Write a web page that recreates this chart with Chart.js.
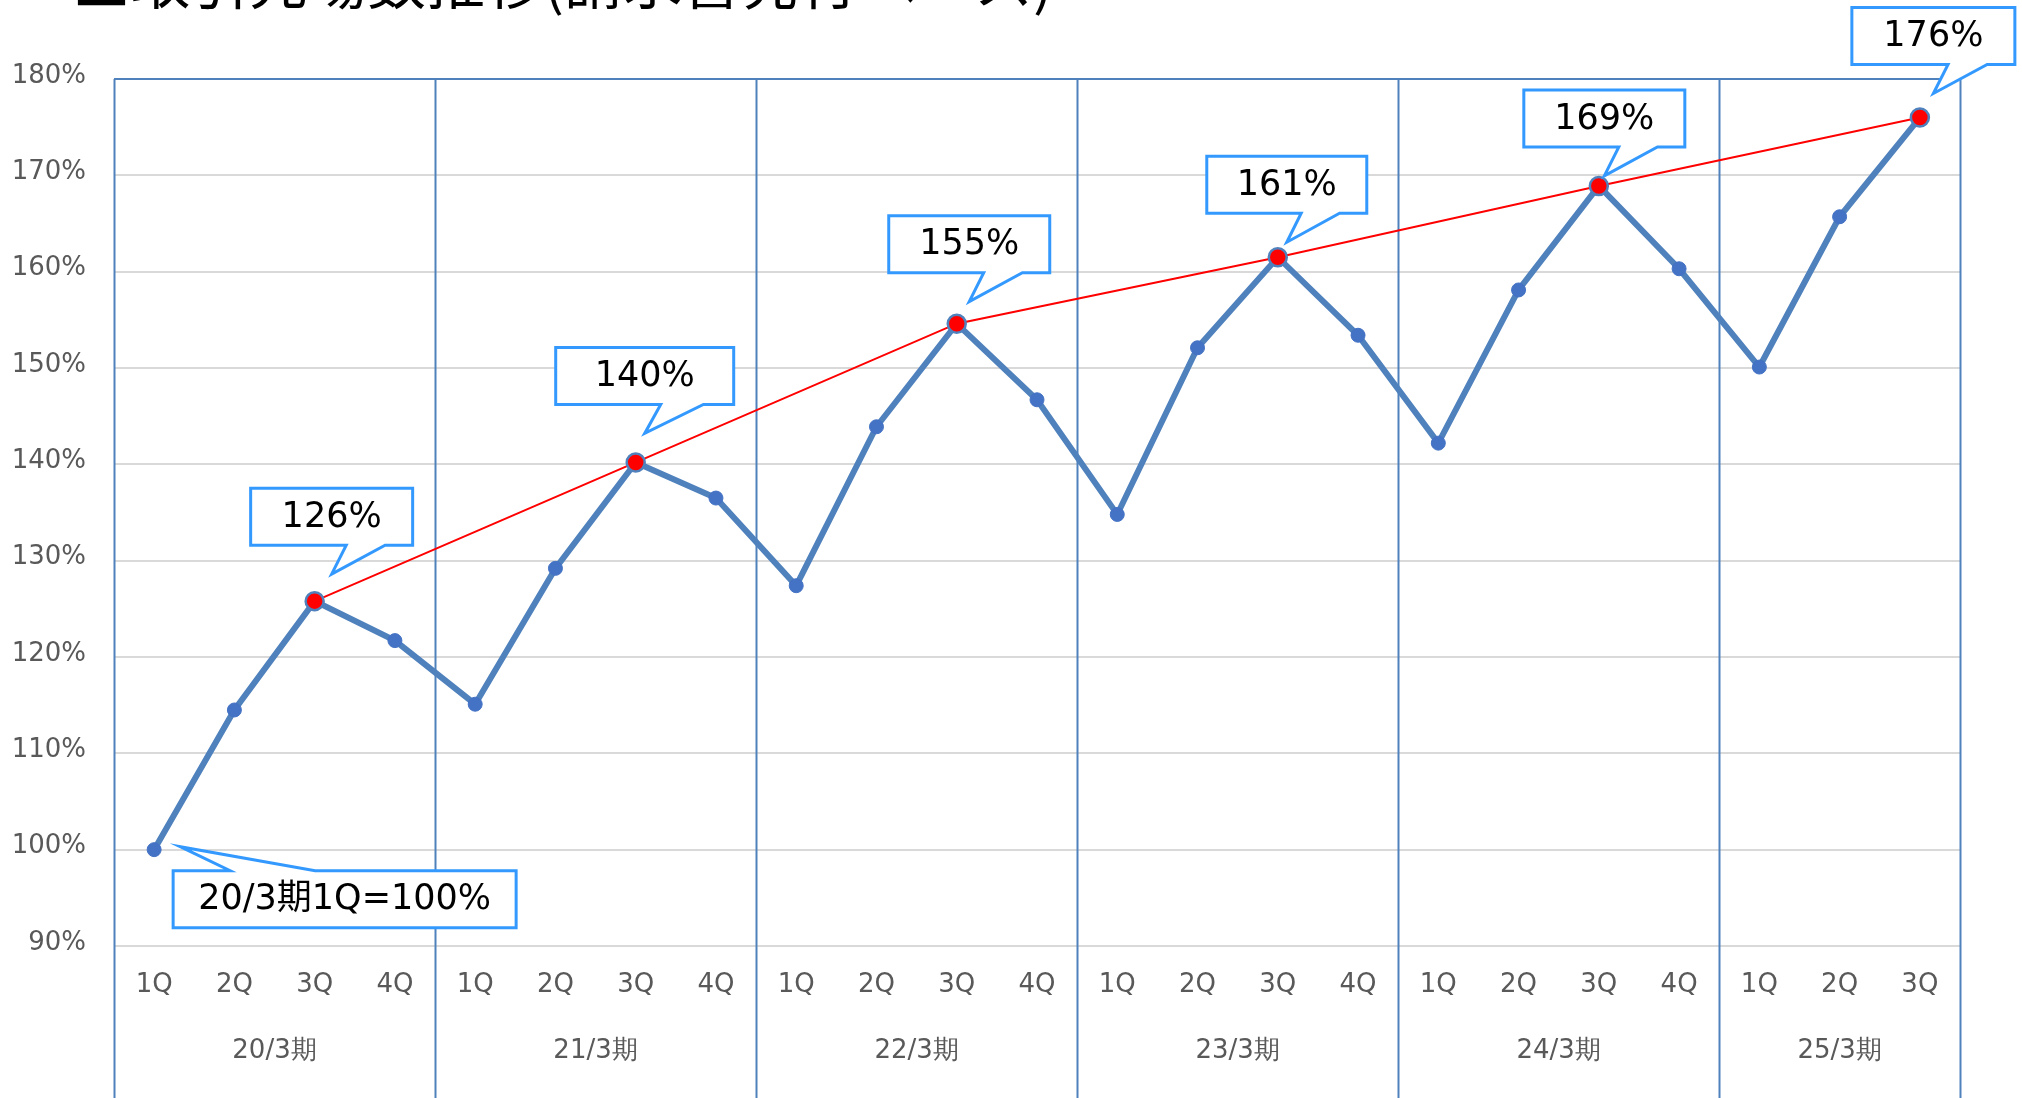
<!DOCTYPE html>
<html lang="ja">
<head>
<meta charset="utf-8">
<title>取引先場数推移</title>
<script src="https://cdn.jsdelivr.net/npm/chart.js@4/dist/chart.umd.min.js"></script>
<style>
  body { margin: 0; background: #fff; overflow: hidden; }
  #wrap { position: relative; width: 2022px; height: 1098px; }
  #title {
    position: absolute; left: 72px; top: -51px;
    font: 59px/59px "Noto Sans CJK JP", sans-serif; color: #000; white-space: nowrap;
  }
  canvas { position: absolute; left: 0; top: 0; }
</style>
</head>
<body>
<div id="wrap">
  <canvas id="trendChart" width="2022" height="1098"></canvas>
  <div id="title">■取引先場数推移(請求書発行ベース)</div>
</div>
<script>
const quarters = ['1Q', '2Q', '3Q', '4Q', '1Q', '2Q', '3Q', '4Q', '1Q', '2Q', '3Q', '4Q',
  '1Q', '2Q', '3Q', '4Q', '1Q', '2Q', '3Q', '4Q', '1Q', '2Q', '3Q']
const fiscalYears = ['20/3期', '21/3期', '22/3期', '23/3期', '24/3期', '25/3期']
const yearSpans = [4, 4, 4, 4, 4, 3]
const indexValues = [100, 114.5, 125.8, 121.7, 115.1, 129.2, 140.2, 136.5, 127.4, 143.9, 154.6, 146.7,
  134.8, 152.1, 161.5, 153.4, 142.2, 158.1, 168.9, 160.3, 150.1, 165.7, 176.0]
const peakValues = [null, null, 125.8, null, null, null, 140.2, null, null, null, 154.6, null,
  null, null, 161.5, null, null, null, 168.9, null, null, null, 176.0]
const peakLabels = ['126%', '140%', '155%', '161%', '169%', '176%']
const baseNote = '20/3期1Q=100%'
const yMin = 90
const yMax = 180
const yStep = 10

const lineBlue = '#4f81bd'
const calloutBlue = '#3399ff'
const tickFont = { family: 'DejaVu Sans', size: 26 }

// callout box placement relative to its point (style only)
const peakBoxes = [
  { dx: -64, dy: -113, w: 162 },
  { dx: -80, dy: -115, w: 178 },
  { dx: -68, dy: -108, w: 161 },
  { dx: -71, dy: -101, w: 160 },
  { dx: -75, dy: -96, w: 161 },
  { dx: -68, dy: -110, w: 163 }
]

// group centres and boundaries in category units
const yearCenters = []
const yearBounds = [-0.5]
let start = 0
yearSpans.forEach(span => {
  yearCenters.push(start + (span - 1) / 2)
  start += span
  yearBounds.push(start - 0.5)
})

const separators = {
  id: 'separators',
  beforeDatasetsDraw (chart) {
    const ctx = chart.ctx
    const xs = chart.scales.year
    const top = chart.chartArea.top
    ctx.save()
    ctx.strokeStyle = lineBlue
    ctx.lineWidth = 2
    ctx.beginPath()
    ctx.moveTo(xs.getPixelForValue(yearBounds[0]), top)
    ctx.lineTo(xs.getPixelForValue(yearBounds[yearBounds.length - 1]), top)
    yearBounds.forEach(b => {
      const px = Math.round(xs.getPixelForValue(b)) + 0.5
      ctx.moveTo(px, top)
      ctx.lineTo(px, chart.height)
    })
    ctx.stroke()
    ctx.restore()
  }
}

function drawBubble (ctx, L, T, W, H, tail, text) {
  const R = L + W
  const B = T + H
  ctx.beginPath()
  ctx.moveTo(L, T)
  if (tail.side === 'top') {
    ctx.lineTo(tail.a, T)
    ctx.lineTo(tail.tx, tail.ty)
    ctx.lineTo(tail.b, T)
  }
  ctx.lineTo(R, T)
  ctx.lineTo(R, B)
  if (tail.side === 'bottom') {
    ctx.lineTo(tail.b, B)
    ctx.lineTo(tail.tx, tail.ty)
    ctx.lineTo(tail.a, B)
  }
  ctx.lineTo(L, B)
  ctx.closePath()
  ctx.fillStyle = '#fff'
  ctx.fill()
  ctx.strokeStyle = calloutBlue
  ctx.lineWidth = 3
  ctx.stroke()
  ctx.fillStyle = '#000'
  ctx.font = '35px "DejaVu Sans", "Noto Sans CJK JP"'
  ctx.textAlign = 'center'
  ctx.textBaseline = 'middle'
  ctx.fillText(text, L + W / 2, T + H / 2 + 1)
}

const callouts = {
  id: 'callouts',
  afterDatasetsDraw (chart) {
    const ctx = chart.ctx
    const xs = chart.scales.x
    const ys = chart.scales.y
    const h = 57
    ctx.save()
    let k = 0
    peakValues.forEach((v, i) => {
      if (v === null) return
      const box = peakBoxes[k]
      const px = xs.getPixelForValue(i)
      const py = ys.getPixelForValue(v)
      const L = px + box.dx
      const T = py + box.dy
      drawBubble(ctx, L, T, box.w, h, {
        side: 'bottom',
        a: L + box.w * 0.59,
        b: L + box.w * 0.83,
        tx: L + box.w * 0.5,
        ty: T + h + 29
      }, peakLabels[k])
      k++
    })
    // base note under the first point
    const bx = xs.getPixelForValue(0)
    const by = ys.getPixelForValue(indexValues[0])
    const L = bx + 19
    const T = by + 21
    drawBubble(ctx, L, T, 343, h, {
      side: 'top', a: L + 57, b: L + 142, tx: L + 7, ty: T - 24
    }, baseNote)
    ctx.restore()
  }
}

const ctx = document.getElementById('trendChart').getContext('2d')
new Chart(ctx, {
  type: 'line',
  data: {
    labels: quarters,
    datasets: [
      {
        data: peakValues,
        spanGaps: true,
        borderColor: '#ff0000',
        borderWidth: 2,
        pointRadius: 9,
        pointBackgroundColor: '#ff0000',
        pointBorderColor: lineBlue,
        pointBorderWidth: 2.5,
        tension: 0
      },
      {
        data: indexValues,
        borderColor: lineBlue,
        borderWidth: 6,
        pointRadius: 7,
        pointBackgroundColor: '#4472c4',
        pointBorderColor: '#4472c4',
        pointBorderWidth: 1,
        tension: 0
      }
    ]
  },
  options: {
    responsive: false,
    devicePixelRatio: 1,
    animation: false,
    layout: { padding: { top: 79, right: 62, left: 0, bottom: 0 } },
    plugins: {
      legend: { display: false },
      tooltip: { enabled: false },
      title: { display: false }
    },
    scales: {
      y: {
        min: yMin,
        max: yMax,
        ticks: {
          stepSize: yStep,
          padding: 28,
          labelOffset: -3,
          color: '#595959',
          font: tickFont,
          callback: v => v + '%'
        },
        grid: { color: '#d9d9d9', lineWidth: 2, drawTicks: false },
        border: { display: false },
        afterFit (scale) { scale.width = 114 }
      },
      x: {
        type: 'category',
        offset: true,
        ticks: {
          padding: 24,
          autoSkip: false,
          maxRotation: 0,
          color: '#595959',
          font: tickFont
        },
        grid: { display: false, drawTicks: false },
        border: { display: false },
        afterFit (scale) { scale.height = 70 }
      },
      year: {
        type: 'linear',
        position: 'bottom',
        min: -0.5,
        max: quarters.length - 0.5,
        afterBuildTicks (scale) {
          scale.ticks = yearCenters.map(v => ({ value: v }))
        },
        ticks: {
          padding: 20,
          autoSkip: false,
          maxRotation: 0,
          color: '#595959',
          font: tickFont,
          callback: (v, i) => fiscalYears[i]
        },
        grid: { display: false, drawTicks: false },
        border: { display: false },
        afterFit (scale) { scale.height = 82 }
      }
    }
  },
  plugins: [separators, callouts]
})
</script>
</body>
</html>
